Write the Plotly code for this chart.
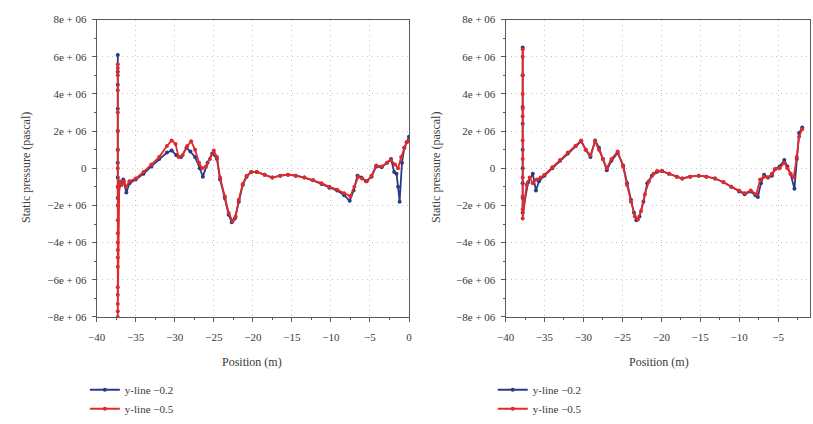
import plotly.graph_objects as go

# ---------------- data (pressure in units of 1e6 Pa) ----------------
# Left panel
L_spike_x = -37.3
L_blue_spike_y = [6.1, 5.2, 4.5, 3.2, 2.0, 1.0, 0.3, -0.5, -1.0, -1.6]
L_red_spike_y = [5.6, 5.4, 5.0, 4.2, 3.0, 2.0, 1.0, 0.0, -1.0, -2.0, -2.8, -3.5, -4.0, -4.4,
                 -4.8, -5.3, -6.4, -6.8, -7.3, -7.7, -8.0]

L_blue_x = [-37.0, -36.6, -36.2, -35.8, -35.0, -34.0, -33.0, -32.0, -31.0, -30.4, -29.8, -29.2,
            -28.5, -28.0, -27.4, -26.8, -26.4, -25.8, -25.2, -24.6, -24.2, -23.6, -23.1, -22.7,
            -22.3, -21.8, -21.3, -20.8, -20.2, -19.5, -18.5, -17.5, -16.5, -15.5, -14.5, -13.4,
            -12.3, -11.2, -10.2, -9.2, -8.3, -7.6, -7.1, -6.6, -6.1, -5.5, -4.8, -4.2, -3.5,
            -2.8, -2.3, -1.9, -1.6, -1.4, -1.2, -0.9, -0.6, -0.3, 0.0]
L_blue_y = [-0.9, -0.6, -1.3, -0.8, -0.6, -0.3, 0.1, 0.5, 0.85, 0.95, 0.7, 0.6,
            1.1, 0.9, 0.6, 0.0, -0.45, 0.3, 0.8, 0.5, -0.6, -1.6, -2.5, -2.9,
            -2.7, -1.8, -0.9, -0.45, -0.2, -0.2, -0.35, -0.5, -0.4, -0.35, -0.4, -0.5,
            -0.65, -0.85, -1.05, -1.2, -1.45, -1.75, -1.2, -0.4, -0.5, -0.7, -0.45, 0.1, 0.05,
            0.3, 0.5, -0.2, -0.3, -1.0, -1.8, 0.3, 1.1, 1.4, 1.7]

L_red_x = [-37.1, -36.8, -36.5, -36.2, -35.8, -35.0, -34.0, -33.0, -32.0, -31.0, -30.4, -29.9,
           -29.5, -29.0, -28.4, -27.9, -27.4, -26.9, -26.5, -26.0, -25.5, -25.0, -24.6, -24.2,
           -23.6, -23.1, -22.6, -22.2, -21.8, -21.3, -20.8, -20.2, -19.5, -18.5, -17.5, -16.5,
           -15.5, -14.5, -13.4, -12.3, -11.2, -10.2, -9.2, -8.3, -7.5, -7.0, -6.5, -6.0, -5.4,
           -4.8, -4.2, -3.5, -2.8, -2.3, -1.8, -1.4, -1.0, -0.6, -0.3, 0.0]
L_red_y = [-0.7, -0.9, -0.7, -1.0, -0.7, -0.55, -0.2, 0.2, 0.6, 1.2, 1.5, 1.3,
           0.6, 0.7, 1.2, 1.45, 1.0, 0.3, 0.0, 0.1, 0.5, 0.95, 0.6, -0.5,
           -1.5, -2.4, -2.85, -2.6, -1.7, -0.85, -0.4, -0.2, -0.2, -0.35, -0.5, -0.4,
           -0.35, -0.4, -0.5, -0.65, -0.8, -1.0, -1.15, -1.35, -1.5, -1.0, -0.45, -0.55, -0.7,
           -0.4, 0.15, 0.1, 0.3, 0.45, 0.2, 0.0, 0.6, 1.1, 1.4, 1.5]

# Right panel
R_spike_x = -37.8
R_blue_spike_y = [6.5, 5.0, 3.3, 2.4, 1.0, 0.0, -0.8, -1.6, -2.4]
R_red_spike_y = [6.4, 6.0, 5.0, 4.0, 3.2, 2.8, 1.5, 0.5, -0.5, -1.5, -2.2, -2.7]

R_blue_x = [-37.1, -36.5, -36.1, -35.7, -35.0, -34.0, -33.0, -32.0, -31.0, -30.3, -29.7, -29.1,
            -28.5, -28.0, -27.5, -27.0, -26.4, -25.6, -24.9, -24.4, -23.9, -23.5, -23.2, -22.8,
            -22.3, -21.8, -21.2, -20.6, -19.9, -19.0, -18.0, -17.3, -16.3, -15.2, -14.2, -13.1,
            -12.0, -11.0, -10.0, -9.3, -8.5, -7.9, -7.6, -7.2, -6.8, -6.3, -5.8, -5.4, -4.8,
            -4.2, -3.8, -3.4, -2.9, -2.6, -2.3, -1.9]
R_blue_y = [-0.75, -0.3, -1.2, -0.7, -0.4, 0.0, 0.4, 0.8, 1.2, 1.45, 1.0, 0.6,
            1.5, 1.1, 0.5, -0.1, 0.4, 0.84, 0.15, -0.8, -1.7, -2.4, -2.8, -2.6,
            -1.8, -0.8, -0.4, -0.2, -0.15, -0.3, -0.45, -0.55, -0.45, -0.4, -0.45, -0.55,
            -0.75, -1.0, -1.25, -1.4, -1.25, -1.45, -1.55, -0.8, -0.35, -0.5, -0.4, -0.05, 0.1,
            0.45, 0.1, -0.3, -1.1, 0.5, 1.9, 2.2]

R_red_x = [-37.3, -36.9, -36.5, -36.0, -35.5, -35.0, -34.0, -33.0, -32.0, -31.0, -30.3, -29.7,
           -29.1, -28.5, -28.0, -27.5, -27.0, -26.4, -25.6, -24.9, -24.4, -23.9, -23.4, -23.0,
           -22.6, -22.1, -21.6, -21.0, -20.5, -19.9, -19.0, -18.0, -17.3, -16.3, -15.2, -14.2,
           -13.1, -12.0, -11.0, -10.0, -9.3, -8.5, -7.8, -7.3, -6.8, -6.3, -5.8, -5.4, -4.8,
           -4.2, -3.8, -3.4, -3.0, -2.6, -2.3, -1.9]
R_red_y = [-0.9, -0.5, -0.8, -0.6, -0.5, -0.35, 0.05, 0.45, 0.85, 1.2, 1.5, 1.0,
           0.7, 1.45, 1.0, 0.5, 0.0, 0.5, 0.9, 0.1, -0.9, -1.8, -2.6, -2.75,
           -2.3, -1.4, -0.7, -0.3, -0.15, -0.15, -0.3, -0.45, -0.55, -0.45, -0.4, -0.45,
           -0.55, -0.75, -1.0, -1.2, -1.35, -1.2, -1.4, -0.6, -0.45, -0.5, -0.3, -0.05, 0.0,
           0.3, 0.0, -0.3, -0.5, 0.6, 1.7, 2.1]

y_tickvals = [8, 6, 4, 2, 0, -2, -4, -6, -8]
y_ticktext = ["8e + 06", "6e + 06", "4e + 06", "2e + 06", "0",
              "\u22122e + 06", "\u22124e + 06", "\u22126e + 06", "\u22128e + 06"]
x_tickvals = [-40, -35, -30, -25, -20, -15, -10, -5, 0]
x_ticktext = ["\u221240", "\u221235", "\u221230", "\u221225", "\u221220", "\u221215",
              "\u221210", "\u22125", "0"]

series_names = ["y-line \u22120.2", "y-line \u22120.5"]
BLUE = "#2a3a85"
RED = "#df2b2b"
FONT = "'Liberation Serif', 'DejaVu Serif', 'Times New Roman', serif"
TXT = "#3a3a3a"

fig = go.Figure()


def add_series(xs, ys, name, color, xa, ya, legend):
    fig.add_trace(go.Scatter(
        x=xs, y=ys, name=name, mode="lines+markers",
        line=dict(color=color, width=1.8),
        marker=dict(color=color, size=4),
        xaxis=xa, yaxis=ya, legend=legend, showlegend=True))


# Left panel
add_series([L_spike_x] * len(L_blue_spike_y) + L_blue_x, L_blue_spike_y + L_blue_y,
           series_names[0], BLUE, "x", "y", "legend")
add_series([L_spike_x] * len(L_red_spike_y) + L_red_x, L_red_spike_y + L_red_y,
           series_names[1], RED, "x", "y", "legend")
# Right panel
add_series([R_spike_x] * len(R_blue_spike_y) + R_blue_x, R_blue_spike_y + R_blue_y,
           series_names[0], BLUE, "x2", "y2", "legend2")
add_series([R_spike_x] * len(R_red_spike_y) + R_red_x, R_red_spike_y + R_red_y,
           series_names[1], RED, "x2", "y2", "legend2")

W, H = 813, 424
axis_common = dict(
    showline=True, linecolor="#5a5a5a", linewidth=1, mirror=True,
    ticks="outside", ticklen=4, tickcolor="#5a5a5a", tickwidth=1,
    showgrid=True, gridcolor="#c4c4c4", griddash="1px,4px", gridwidth=1,
    zeroline=False, tickfont=dict(family=FONT, size=11, color=TXT),
)

xaxis_cfg = dict(axis_common, tickvals=x_tickvals, ticktext=x_ticktext,
                 ticklabelstandoff=6,
                 minor=dict(ticks="outside", ticklen=2, tickcolor="#5a5a5a", dtick=2.5,
                            showgrid=False))
yaxis_cfg = dict(axis_common, tickvals=y_tickvals, ticktext=y_ticktext, range=[-8, 8],
                 ticklabelstandoff=3,
                 minor=dict(ticks="outside", ticklen=2, tickcolor="#5a5a5a", dtick=1,
                            showgrid=False))

ydom = [104 / H, 410 / H]
legend_common = dict(xanchor="left", yanchor="top", font=dict(family=FONT, size=11, color=TXT),
                     bgcolor="rgba(0,0,0,0)", tracegroupgap=0, itemwidth=30)
fig.update_layout(
    width=W, height=H, margin=dict(l=0, r=0, t=0, b=0),
    paper_bgcolor="white", plot_bgcolor="white",
    font=dict(family=FONT, size=11, color=TXT),
    xaxis=dict(xaxis_cfg, domain=[89 / W, 406 / W], range=[-40, 0], anchor="y"),
    yaxis=dict(yaxis_cfg, domain=ydom, anchor="x"),
    xaxis2=dict(xaxis_cfg, domain=[504 / W, 1.0], range=[-40, -0.9], anchor="y2"),
    yaxis2=dict(yaxis_cfg, domain=ydom, anchor="x2"),
    legend=dict(legend_common, x=77 / W, y=(H - 380) / H),
    legend2=dict(legend_common, x=491 / W, y=(H - 380) / H),
    showlegend=True,
)

annos = [
    dict(text="Static pressure (pascal)", x=18 / W, y=(H - 166) / H, textangle=-90),
    dict(text="Static pressure (pascal)", x=434 / W, y=(H - 166) / H, textangle=-90),
    dict(text="Position (m)", x=247 / W, y=(H - 366) / H),
    dict(text="Position (m)", x=660 / W, y=(H - 366) / H),
]
for a in annos:
    fig.add_annotation(xref="paper", yref="paper", showarrow=False,
                       xanchor="center", yanchor="middle",
                       font=dict(family=FONT, size=12, color=TXT), **a)

fig.write_html("out.html")
